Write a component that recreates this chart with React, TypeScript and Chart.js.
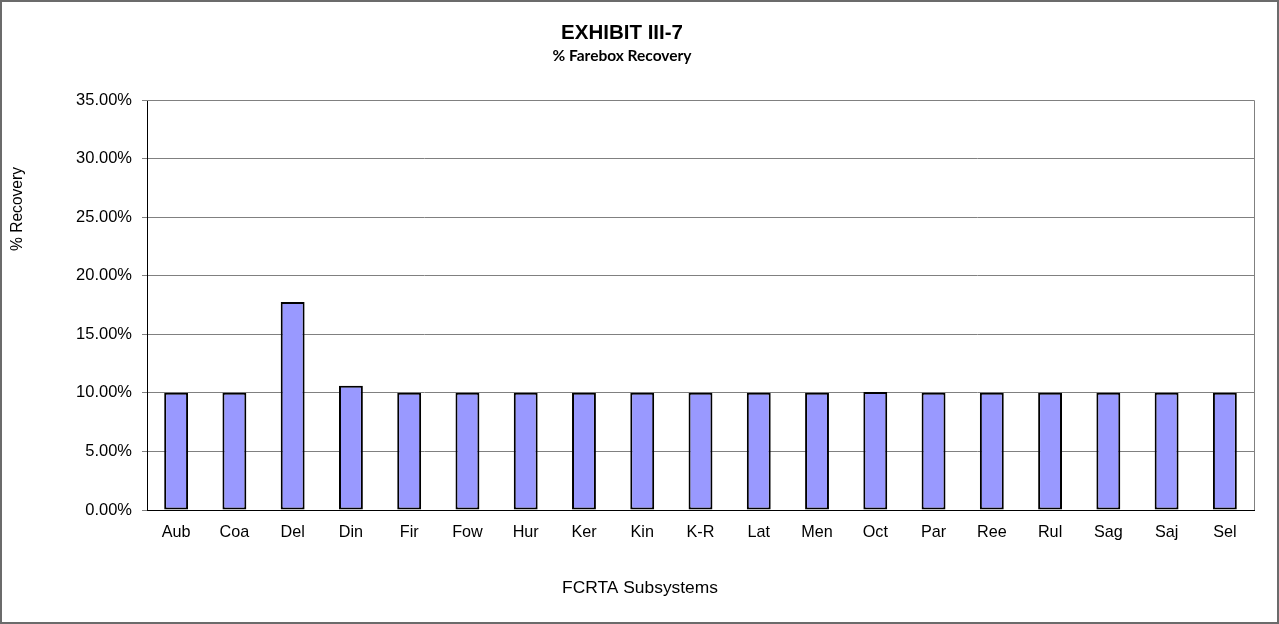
import React, { useEffect, useRef } from "react";
import { Chart, registerables } from "chart.js";

Chart.register(...registerables);

const categories = ["Aub", "Coa", "Del", "Din", "Fir", "Fow", "Hur", "Ker", "Kin", "K-R", "Lat", "Men", "Oct", "Par", "Ree", "Rul", "Sag", "Saj", "Sel"];
const recovery = [10.0, 10.0, 17.75, 10.6, 10.0, 10.0, 10.0, 10.0, 10.0, 10.0, 10.0, 10.0, 10.08, 10.0, 10.0, 10.0, 10.0, 10.0, 10.0];
const titleText = "EXHIBIT III-7";
const subtitleText = "% Farebox Recovery";
const yTitle = "% Recovery";
const xTitle = "FCRTA Subsystems";

const W = 1279;
const H = 624;

const decor = {
  id: "decor",
  beforeDraw(chart: any) {
    const ctx = chart.ctx;
    ctx.save();
    ctx.fillStyle = "#ffffff";
    ctx.fillRect(0, 0, W, H);
    ctx.restore();
  },
  afterDraw(chart: any) {
    const ctx = chart.ctx;
    const a = chart.chartArea;
    ctx.save();
    // plot area border (top & right)
    ctx.strokeStyle = "#808080";
    ctx.lineWidth = 1;
    ctx.beginPath();
    ctx.moveTo(a.left, a.top + 0.5);
    ctx.lineTo(a.right + 0.5, a.top + 0.5);
    ctx.lineTo(a.right + 0.5, a.bottom);
    ctx.stroke();
    // outer border
    ctx.strokeStyle = "#6b6b6b";
    ctx.lineWidth = 2;
    ctx.strokeRect(1, 1, W - 2, H - 2);
    // titles
    ctx.fillStyle = "#000";
    ctx.textAlign = "center";
    ctx.textBaseline = "middle";
    ctx.font = "bold 20.5px 'Liberation Sans', Arial, sans-serif";
    ctx.fillText(titleText, 622, 33);
    ctx.font = "bold 15.5px Lato, 'Liberation Sans', sans-serif";
    ctx.fillText(subtitleText, 622, 56);
    ctx.font = "17.4px 'Liberation Sans', Arial, sans-serif";
    ctx.fillText(xTitle, 640, 588);
    ctx.font = "15.6px 'Liberation Sans', Arial, sans-serif";
    ctx.translate(18, 209);
    ctx.rotate(-Math.PI / 2);
    ctx.fillText(yTitle, 0, 0);
    ctx.restore();
  },
};

export default function App() {
  const ref = useRef<HTMLCanvasElement>(null);
  useEffect(() => {
    document.body.style.margin = "0";
    const chart = new Chart(ref.current!, {
      type: "bar",
      data: {
        labels: categories,
        datasets: [
          {
            data: recovery,
            backgroundColor: "#9999ff",
            borderColor: "#000000",
            borderWidth: 2,
            borderSkipped: false,
            barPercentage: 0.41,
            categoryPercentage: 1,
          },
        ],
      },
      options: {
        animation: false,
        responsive: false,
        devicePixelRatio: 1,
        layout: { padding: { left: 0, top: 100, right: 25, bottom: 0 } },
        plugins: { legend: { display: false }, title: { display: false }, tooltip: { enabled: false } },
        scales: {
          x: {
            afterFit(scale: any) {
              scale.height = 114;
            },
            grid: { display: false, drawTicks: false },
            border: { color: "#000", width: 1 },
            ticks: {
              color: "#000",
              padding: 13,
              maxRotation: 0,
              autoSkip: false,
              font: { family: "'Liberation Sans', Arial, sans-serif", size: 16.2 },
            },
          },
          y: {
            min: 0,
            max: 35,
            afterFit(scale: any) {
              scale.width = 147;
            },
            grid: { color: "#808080", lineWidth: 1, tickLength: 5, tickColor: "#808080" },
            border: { color: "#000", width: 1 },
            ticks: {
              stepSize: 5,
              color: "#000",
              padding: 10,
              font: { family: "'Liberation Sans', Arial, sans-serif", size: 16.5 },
              callback: (v: any) => Number(v).toFixed(2) + "%",
            },
          },
        },
      },
      plugins: [decor],
    });
    return () => chart.destroy();
  }, []);
  return (
    <div style={{ position: "absolute", left: 0, top: 0, width: W, height: H }}>
      <canvas ref={ref} width={W} height={H} style={{ width: W, height: H, display: "block" }} />
    </div>
  );
}
